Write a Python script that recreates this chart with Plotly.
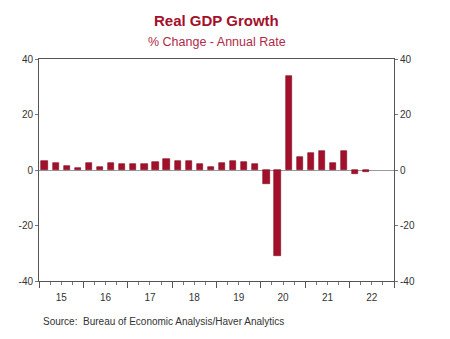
import plotly.graph_objects as go

years = [2015, 2016, 2017, 2018, 2019, 2020, 2021, 2022]
year_labels = ["15", "16", "17", "18", "19", "20", "21", "22"]
quarters = ["Q1", "Q2", "Q3", "Q4"]
y_ticks = [-40, -20, 0, 20, 40]
y_tick_labels = ["-40", "-20", "0", "20", "40"]
# Quarterly real GDP growth, % change annual rate, 2015Q1..2022Q2
gdp = [3.4, 2.4, 1.3, 0.6,
       2.4, 1.2, 2.4, 2.0,
       2.0, 2.3, 3.0, 3.8,
       3.2, 3.3, 2.0, 1.0,
       2.4, 3.4, 2.8, 2.0,
       -5.0, -31.1, 34.0, 4.6,
       6.3, 7.0, 2.4, 7.0,
       -1.4, -0.8]

x = [years[i // 4] + (i % 4 + 0.5) / 4 for i in range(len(gdp))]
hover = [f"{years[i // 4]} {quarters[i % 4]}" for i in range(len(gdp))]
quarter_marks = [y + q / 4 for y in years for q in range(1, 4)]

bar_color = "#a3102c"
red_title = "#a3102c"
font = "Liberation Sans, Arial, sans-serif"

fig = go.Figure()
fig.add_trace(go.Bar(x=x, y=gdp, width=0.14, marker=dict(color=bar_color, line=dict(color="#7d0a20", width=0.6)),
                     hovertext=hover, showlegend=False))
fig.add_trace(go.Scatter(x=[2015.5], y=[0], xaxis="x2", mode="markers",
                         marker=dict(opacity=0), showlegend=False, hoverinfo="skip"))
fig.add_trace(go.Scatter(x=[2015.5], y=[0], yaxis="y2", mode="markers",
                         marker=dict(opacity=0), showlegend=False, hoverinfo="skip"))

fig.update_layout(
    width=450, height=339,
    margin=dict(l=39, r=56, t=59, b=58),
    paper_bgcolor="white", plot_bgcolor="white",
    font=dict(family=font, size=10, color="#333333"),
    bargap=0,
    xaxis=dict(range=[2015, 2023], tickvals=years + [2023], ticktext=[""] * 9,
               ticks="outside", ticklen=6, tickcolor="#555555", tickwidth=1,
               minor=dict(tickvals=quarter_marks, ticks="outside", ticklen=3, tickcolor="#777777"),
               showgrid=False, showline=True, linecolor="#555555", linewidth=1, mirror=True,
               zeroline=False, fixedrange=True),
    xaxis2=dict(range=[2015, 2023], overlaying="x", side="bottom", matches="x",
                tickvals=[y + 0.5 for y in years], ticktext=year_labels,
                ticks="outside", ticklen=7, tickcolor="rgba(0,0,0,0)",
                showgrid=False, showline=False, zeroline=False,
                tickfont=dict(size=10, color="#333333")),
    yaxis=dict(range=[-40, 40], tickvals=y_ticks, ticktext=y_tick_labels, ticks="outside", ticklen=3,
               tickcolor="#777777", showgrid=False, showline=True, linecolor="#555555", linewidth=1,
               zeroline=True, zerolinecolor="#9a9a9a", zerolinewidth=1,
               tickfont=dict(size=10, color="#333333")),
    yaxis2=dict(range=[-40, 40], tickvals=y_ticks, ticktext=y_tick_labels, overlaying="y", side="right",
                ticks="outside", ticklen=3, tickcolor="#777777", showgrid=False,
                showline=True, linecolor="#555555", zeroline=False,
                tickfont=dict(size=10, color="#333333")),
    annotations=[
        dict(text="<b>Real GDP Growth</b>", x=0.5, y=20, xref="paper", yref="paper",
             yanchor="middle", showarrow=False, font=dict(size=15, color=red_title, family=font)),
        dict(text="% Change - Annual Rate", x=0.5, y=0, xref="paper", yref="paper",
             yanchor="middle", showarrow=False, font=dict(size=12.5, color="#b02a48", family=font)),
        dict(text="Source:  Bureau of Economic Analysis/Haver Analytics", x=0, y=0, xref="paper",
             yref="paper", xanchor="left", yanchor="middle", showarrow=False,
             font=dict(size=10, color="#333333", family=font)),
    ],
)

# Position annotations in pixels via paper coordinates
plot_h = 339 - 59 - 58
def py(pix):
    return (339 - 58 - pix) / plot_h
fig.layout.annotations[0].y = py(20)
fig.layout.annotations[1].y = py(41.5)
fig.layout.annotations[2].y = py(321)
fig.layout.annotations[2].x = (41 - 39) / (450 - 39 - 56)

fig.write_html("out.html")
